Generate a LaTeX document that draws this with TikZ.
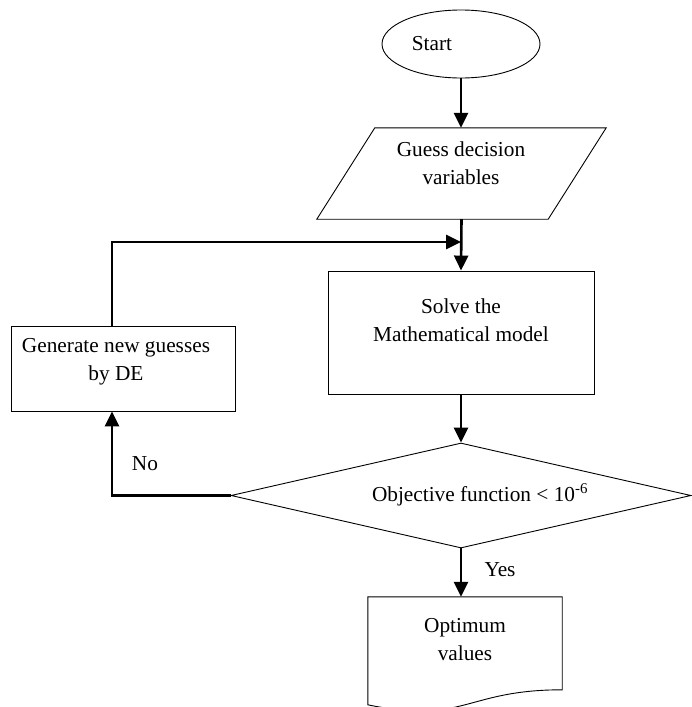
\documentclass[tikz,border=0pt]{standalone}
\usepackage{fontspec}
\setmainfont{Liberation Serif}
\usetikzlibrary{shapes.geometric,arrows.meta,positioning,calc}

\tikzset{
  flowline/.style={line width=2.6pt, -{Triangle[length=15pt,width=14pt]}},
  shapeline/.style={draw, line width=0.9pt, inner sep=0pt},
  txt/.style={align=center, font=\fontsize{21.3}{28}\selectfont, inner sep=0pt}
}

\begin{document}
\begin{tikzpicture}[x=1pt, y=-1pt]
    \useasboundingbox (0,0) rectangle (692,707);

    % shapes
    \node [shapeline, ellipse, minimum width=158, minimum height=68] (start) at (461,44) {};
    \node [rectangle, inner sep=0pt, minimum width=289, minimum height=91] (guess) at (461.5,173.5) {};
    \draw [line width=0.9pt] (guess.south west) -- ($(guess.south east)+(-58,0)$)
        -- (guess.north east) -- ($(guess.north west)+(58,0)$) -- cycle;
    \node [shapeline, rectangle, minimum width=266, minimum height=123] (solve) at (461,332.5) {};
    \node [shapeline, rectangle, minimum width=224, minimum height=85] (gen) at (123,368.5) {};
    \node [shapeline, diamond, minimum width=460, minimum height=105] (test) at (461,495.5) {};
    \node [rectangle, inner sep=0pt, minimum width=194, minimum height=116] (opt) at (465,655) {};
    \draw [line width=0.9pt] (opt.north west) -- (opt.north east) -- ($(opt.north east)+(0,93)$)
        .. controls ($(opt.north)+(0,93)$) and ($(opt.north)+(0,128)$) .. ($(opt.north west)+(0,108)$) -- cycle;

    % texts
    \node [txt] (startlbl) at (432,44) {Start};
    \node [txt] (guesslbl) at (461,163) {Guess decision\\variables};
    \node [txt] (solvelbl) at (461,320) {Solve the\\Mathematical model};
    \node [txt] (genlbl) at (116,362) {Generate new guesses\\by DE};
    \node [txt] (testlbl) at (480,495) {Objective function < 10\textsuperscript{-6}};
    \node [txt] (optlbl) at (465,640) {Optimum\\values};
    \node [txt] (nolbl) at (145,464) {No};
    \node [txt] (yeslbl) at (500,570) {Yes};

    % connectors
    \coordinate (join) at (461,242);
    \draw [flowline] (start.south) -- (start.south |- guess.north);
    \draw [flowline] (guess.south) -- (solve.north);
    \draw [flowline] ([xshift=-11pt]gen.north) |- (join);
    \draw [flowline] (solve.south) -- (test.north);
    \draw [flowline] (test.west) -| ([xshift=-11pt]gen.south);
    \draw [flowline] (test.south) -- (test.south |- opt.north);
\end{tikzpicture}
\end{document}
